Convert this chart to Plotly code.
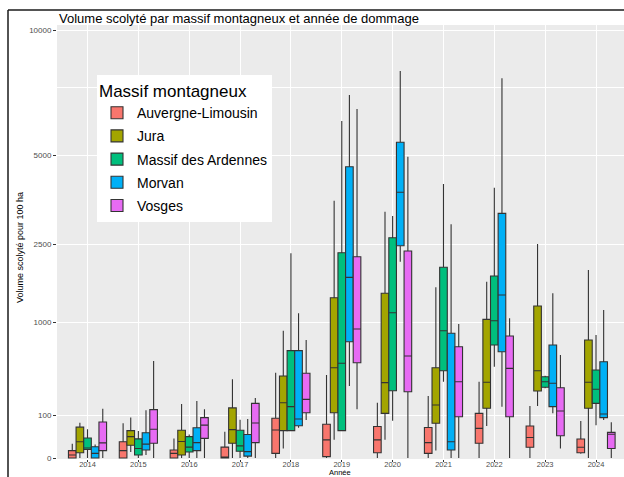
import numpy as np
import plotly.graph_objects as go

# Years of damage (x categories)
annees = ["2014", "2015", "2016", "2017", "2018", "2019", "2020", "2021", "2022", "2023", "2024"]

# Box statistics per mountain range (volume per 100 ha): whisker low, Q1, median, Q3, whisker high
auvergne_low = [0, 0, 0, 0, 0, 0, 0, 0, 0, 0, 1]
auvergne_q1 = [0, 0, 0, 0, 1.2, 0.1, 1.5, 1.2, 12, 6.3, 1.5]
auvergne_med = [0.5, 3, 1.2, 0, 43, 18, 18, 13, 48, 23, 6.3]
auvergne_q3 = [3, 14.5, 3.5, 6.5, 86, 62, 54, 51, 109, 56, 19.7]
auvergne_high = [11, 66, 21, 38, 398, 376, 167, 210, 318, 148, 75]

jura_low = [0, 2, 0, 0, 5, 18, 18, 3, 56, 148, 0]
jura_q1 = [1.5, 9, 0.5, 12, 41, 112, 109, 66, 135, 245, 135]
jura_med = [14.5, 25, 15, 44, 167, 445, 310, 153, 313, 416, 313]
jura_q3 = [52, 41, 42, 137, 367, 1403, 1481, 445, 1050, 1261, 760]
jura_high = [68, 90, 160, 338, 885, 3614, 3312, 1590, 1697, 2500, 1930]

ardennes_low = [0, 0, 0, 0, 40, 40, 76, 318, 455, 265, 59]
ardennes_q1 = [4, 0.5, 2, 2.5, 41, 41, 247, 416, 697, 273, 163]
ardennes_med = [5.5, 5, 6.5, 8, 144, 490, 1153, 885, 1029, 318, 258]
ardennes_q3 = [22, 20, 25, 42, 630, 2300, 2650, 1985, 1808, 361, 423]
ardennes_high = [45, 40, 30, 80, 2290, 6200, 3200, 4100, 3989, 370, 826]

morvan_low = [0, 0.5, 0, 0, 50, 283, 2104, 0, 144, 109, 79]
morvan_q1 = [0, 3.5, 3, 0.2, 57, 738, 2461, 3.5, 617, 144, 89]
morvan_med = [1.2, 10.5, 13, 2.2, 83, 1782, 3854, 14.5, 1450, 305, 106]
morvan_q3 = [7, 35, 50, 30, 629, 4633, 5441, 849, 3268, 697, 506]
morvan_high = [10, 125, 178, 83, 1143, 7190, 8176, 2980, 7870, 1481, 1196]

vosges_low = [0, 0, 0, 0, 79, 130, 0, 0, 0, 5, 0]
vosges_q1 = [3, 12, 21, 13, 112, 496, 240, 93, 93, 27, 5]
vosges_med = [12.5, 45, 59, 67, 188, 908, 568, 318, 439, 121, 31]
vosges_q3 = [71, 128, 89, 163, 392, 2212, 2339, 676, 812, 270, 36]
vosges_high = [132, 515, 130, 197, 760, 6650, 4956, 980, 1065, 579, 70]

# Y axis breaks (square-root scale)
y_breaks = [0, 100, 1000, 2500, 5000, 10000]
y_minor = [7500]

series = [
    ("Auvergne-Limousin", "#F8766D", auvergne_low, auvergne_q1, auvergne_med, auvergne_q3, auvergne_high),
    ("Jura", "#A3A500", jura_low, jura_q1, jura_med, jura_q3, jura_high),
    ("Massif des Ardennes", "#00BF7D", ardennes_low, ardennes_q1, ardennes_med, ardennes_q3, ardennes_high),
    ("Morvan", "#00B0F6", morvan_low, morvan_q1, morvan_med, morvan_q3, morvan_high),
    ("Vosges", "#E76BF3", vosges_low, vosges_q1, vosges_med, vosges_q3, vosges_high),
]

sq = lambda v: np.sqrt(np.asarray(v, dtype=float))

fig = go.Figure()
for name, color, lo, q1, med, q3, hi in series:
    fig.add_trace(go.Box(
        name=name,
        x=annees,
        lowerfence=sq(lo),
        q1=sq(q1),
        median=sq(med),
        q3=sq(q3),
        upperfence=sq(hi),
        fillcolor=color,
        line=dict(color="#333333", width=1.1),
        whiskerwidth=0,
        boxpoints=False,
        legendgroup=name,
    ))

W, H = 624, 477
L, R, T, B = 57, 0, 25, 18
plot_w = W - L - R
plot_h = H - T - B

def px_x(x):
    return (x - L) / plot_w

def px_y(y):
    return (H - B - y) / plot_h

fig.update_layout(
    width=W,
    height=H,
    margin=dict(l=L, r=R, t=T, b=B),
    paper_bgcolor="white",
    plot_bgcolor="#EBEBEB",
    boxmode="group",
    boxgap=0.25,
    boxgroupgap=0,
    font=dict(family="Liberation Sans, Arial, sans-serif", color="#000000"),
    xaxis=dict(
        type="category",
        range=[-0.6, 10.55],
        showgrid=True,
        gridcolor="white",
        gridwidth=1.2,
        ticks="outside",
        ticklen=2,
        tickcolor="#333333",
        tickfont=dict(size=7.5, color="#4D4D4D"),
        ticklabelstandoff=-4,
        showline=False,
        zeroline=False,
    ),
    yaxis=dict(
        range=[-0.23, 101.17],
        tickmode="array",
        tickvals=sq(y_breaks),
        ticktext=[str(v) for v in y_breaks],
        showgrid=True,
        gridcolor="white",
        gridwidth=1.2,
        ticks="outside",
        ticklen=3,
        tickcolor="#333333",
        tickfont=dict(size=8, color="#4D4D4D"),
        zeroline=False,
        showline=False,
        minor=dict(tickmode="array", tickvals=sq(y_minor), showgrid=True,
                   gridcolor="white", gridwidth=1, ticks=""),
    ),
    legend=dict(
        title=dict(text="Massif montagneux", font=dict(size=17, color="#000000")),
        font=dict(size=14, color="#000000"),
        bgcolor="white",
        x=px_x(97),
        y=px_y(75),
        xanchor="left",
        yanchor="top",
        tracegroupgap=2,
    ),
    showlegend=True,
)

# Title and axis titles
fig.add_annotation(text="Volume scolyté par massif montagneux et année de dommage",
                   xref="paper", yref="paper", x=0, y=px_y(18), xanchor="left", yanchor="middle",
                   showarrow=False, font=dict(size=13, color="#000000"))
fig.add_annotation(text="Volume scolyté pour 100 ha", textangle=-90,
                   xref="paper", yref="paper", x=px_x(20), y=px_y(248), xanchor="center", yanchor="middle",
                   showarrow=False, font=dict(size=9, color="#000000"))
fig.add_annotation(text="Année",
                   xref="paper", yref="paper", x=px_x(340), y=px_y(477), xanchor="center", yanchor="bottom",
                   showarrow=False, font=dict(size=7.5, color="#000000"), borderpad=0, borderwidth=0)

# Frame around the figure
fig.add_shape(type="line", xref="paper", yref="paper", x0=px_x(8), x1=px_x(624), y0=px_y(10), y1=px_y(10),
              line=dict(color="#1a1a1a", width=1.5))
fig.add_shape(type="line", xref="paper", yref="paper", x0=px_x(8), x1=px_x(8), y0=px_y(10), y1=px_y(477),
              line=dict(color="#1a1a1a", width=1.5))

fig.write_html("out.html")
